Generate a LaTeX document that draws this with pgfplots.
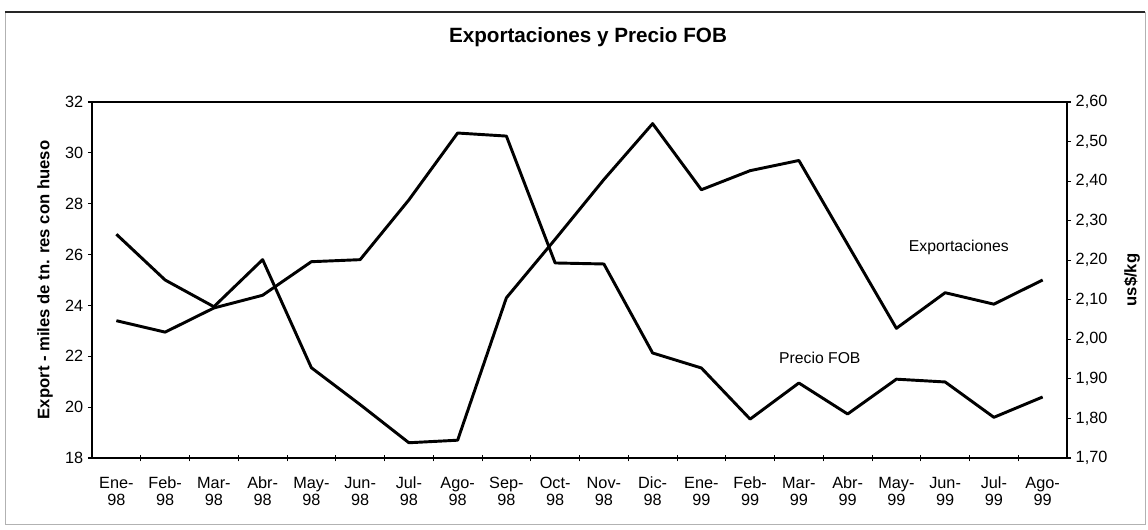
\documentclass[border=0pt]{standalone}
\usepackage{fontspec}
\setmainfont{Liberation Sans}
\usepackage{pgfplots}
\pgfplotsset{compat=1.18}
\begin{document}
\begin{tikzpicture}
\useasboundingbox (-69pt,-53.25pt) rectangle (792pt,343.5pt);
\draw[gray!60, line width=0.5pt] (-65.25pt,-49.5pt) rectangle (789.75pt,334.5pt);
\draw[black!85, line width=1pt] (-65.25pt,334.5pt) -- (789.75pt,334.5pt);
\node[font=\bfseries\fontsize{15.5}{18}\selectfont] at (372pt,315.5pt) {Exportaciones y Precio FOB};
\begin{axis}[
  at={(0,0)}, anchor=south west,
  scale only axis, width=731.25pt, height=267pt,
  xmin=-0.5, xmax=19.5, ymin=18, ymax=32,
  axis line style={line width=1.1pt},
  ytick={18,20,22,24,26,28,30,32},
  ytick pos=left, xtick pos=bottom,
  tick align=outside,
  major tick length=3pt,
  minor tick length=5pt,
  xtick={0,...,19},
  xticklabels={{\strut Ene-\\98},{\strut Feb-\\98},{\strut Mar-\\98},{\strut Abr-\\98},{\strut May-\\98},{\strut Jun-\\98},{\strut Jul-\\98},{\strut Ago-\\98},{\strut Sep-\\98},{\strut Oct-\\98},{\strut Nov-\\98},{\strut Dic-\\98},{\strut Ene-\\99},{\strut Feb-\\99},{\strut Mar-\\99},{\strut Abr-\\99},{\strut May-\\99},{\strut Jun-\\99},{\strut Jul-\\99},{\strut Ago-\\99}},
  xticklabel style={align=center, font=\fontsize{12.2}{13.2}\selectfont, yshift=-7pt},
  yticklabel style={font=\fontsize{12.2}{13.5}\selectfont},
  major x tick style={draw=none},
  minor xtick={0.5,1.5,2.5,3.5,4.5,5.5,6.5,7.5,8.5,9.5,10.5,11.5,12.5,13.5,14.5,15.5,16.5,17.5,18.5},
  minor x tick style={black, line width=0.6pt, yshift=2.5pt},
  major y tick style={black, line width=0.8pt},
  /pgf/number format/assume math mode=true,
  ylabel={Export - miles de tn. res con hueso},
  every axis y label/.style={at={(rel axis cs:0,0.5)}, xshift=-35.25pt, rotate=90, anchor=center, font=\bfseries\fontsize{12.5}{14}\selectfont},
]
\addplot[black, line width=2.2pt, line join=round] coordinates {
(0,26.8) (1,25.0) (2,23.95) (3,25.8) (4,21.55) (5,20.1) (6,18.6) (7,18.7) (8,24.3) (9,26.6)
(10,28.95) (11,31.15) (12,28.55) (13,29.3) (14,29.7) (15,26.4) (16,23.1) (17,24.5) (18,24.05) (19,25.0)};
\addplot[black, line width=2.2pt, line join=round] coordinates {
(0,23.4) (1,22.95) (2,23.9) (3,24.4) (4,25.72) (5,25.8) (6,28.15) (7,30.78) (8,30.66) (9,25.67)
(10,25.63) (11,22.13) (12,21.54) (13,19.53) (14,20.95) (15,19.73) (16,21.1) (17,20.99) (18,19.6) (19,20.4)};
\node[font=\fontsize{11.8}{13.5}\selectfont] at (axis cs:17.28,26.3) {Exportaciones};
\node[font=\fontsize{11.8}{13.5}\selectfont] at (axis cs:14.43,21.93) {Precio FOB};
\end{axis}
\begin{axis}[
  at={(0,0)}, anchor=south west,
  scale only axis, width=731.25pt, height=267pt,
  xmin=-0.5, xmax=19.5, ymin=1.7, ymax=2.6,
  axis y line*=right, axis x line=none,
  axis line style={line width=1.1pt},
  tick align=outside,
  major tick length=3pt,
  ytick={1.7,1.8,1.9,2.0,2.1,2.2,2.3,2.4,2.5,2.6},
  yticklabels={{1,70},{1,80},{1,90},{2,00},{2,10},{2,20},{2,30},{2,40},{2,50},{2,60}},
  yticklabel style={font=\fontsize{12.2}{13.5}\selectfont},
  major y tick style={black, line width=0.8pt},
  ylabel={us\$/kg},
  every axis y label/.style={at={(rel axis cs:1,0.5)}, xshift=48.75pt, rotate=90, anchor=center, font=\bfseries\fontsize{12.5}{14}\selectfont},
]
\end{axis}
\end{tikzpicture}
\end{document}
